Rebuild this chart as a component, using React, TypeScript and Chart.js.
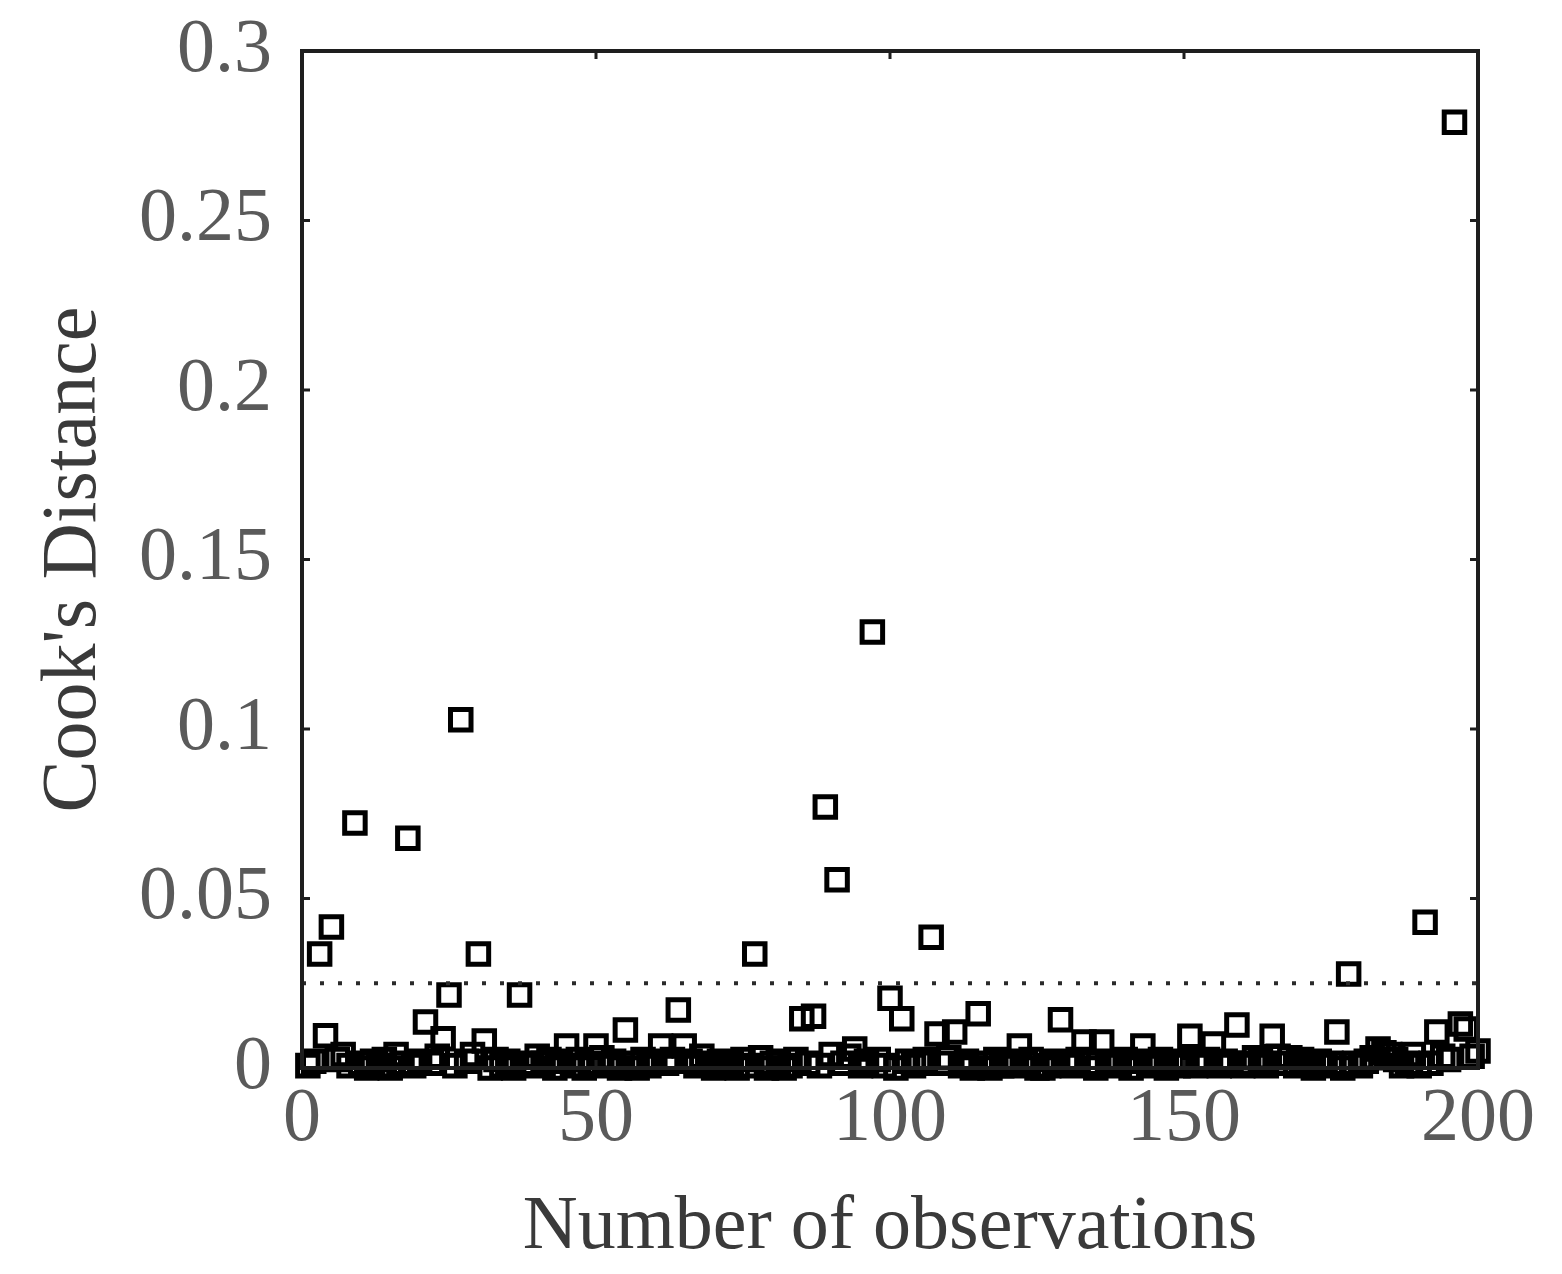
import React, { useEffect, useRef } from 'react';
import { Chart, registerables } from 'chart.js';

Chart.register(...registerables);

// Cook's distance per observation (obs 1..200)
const cooksDistance: number[] = [
  0.0007, 0.002, 0.0336, 0.0095, 0.0416, 0.0025, 0.004, 0.0007, 0.0723, 0.0014,
  0.0, 0.002, 0.0007, 0.0025, 0.0, 0.004, 0.0014, 0.0678, 0.0007, 0.002,
  0.0136, 0.0014, 0.0035, 0.0086, 0.0215, 0.0007, 0.1027, 0.002, 0.004, 0.0336,
  0.008, 0.0, 0.0025, 0.0007, 0.002, 0.0, 0.0215, 0.0014, 0.0007, 0.0035,
  0.0014, 0.0025, 0.0, 0.002, 0.0065, 0.0007, 0.0025, 0.0, 0.0014, 0.0065,
  0.003, 0.0007, 0.002, 0.0, 0.0112, 0.0014, 0.0, 0.0025, 0.0007, 0.002,
  0.0065, 0.0014, 0.0025, 0.0171, 0.0065, 0.002, 0.0007, 0.0035, 0.0014, 0.0,
  0.002, 0.0007, 0.0014, 0.0, 0.0025, 0.0007, 0.0336, 0.003, 0.0, 0.0014,
  0.002, 0.0, 0.0007, 0.0025, 0.0145, 0.0014, 0.0153, 0.0007, 0.077, 0.004,
  0.0555, 0.0014, 0.0035, 0.0056, 0.0007, 0.002, 0.1286, 0.0025, 0.0007, 0.0206,
  0.0, 0.0145, 0.002, 0.0007, 0.0014, 0.0025, 0.0386, 0.01, 0.0014, 0.003,
  0.0106, 0.0007, 0.002, 0.0, 0.016, 0.0014, 0.0, 0.0025, 0.0007, 0.002,
  0.0007, 0.0065, 0.0014, 0.0025, 0.0, 0.0, 0.0007, 0.002, 0.0142, 0.0014,
  0.0007, 0.0025, 0.0077, 0.0014, 0.0, 0.0077, 0.002, 0.0007, 0.0014, 0.0025,
  0.0, 0.002, 0.0065, 0.0014, 0.0007, 0.0025, 0.0, 0.0014, 0.0007, 0.002,
  0.0094, 0.0007, 0.0014, 0.0025, 0.0071, 0.0007, 0.002, 0.0014, 0.0127, 0.0007,
  0.0014, 0.003, 0.002, 0.0007, 0.0094, 0.0035, 0.0014, 0.003, 0.0007, 0.0025,
  0.0014, 0.0, 0.002, 0.0007, 0.0014, 0.0106, 0.0, 0.0277, 0.0014, 0.0007,
  0.002, 0.003, 0.0056, 0.0045, 0.004, 0.0025, 0.0007, 0.0014, 0.004, 0.0007,
  0.043, 0.0014, 0.0106, 0.0035, 0.0025, 0.279, 0.013, 0.0115, 0.0035, 0.005,
];

// dotted cut-off line
const threshold = 0.025;

const xTicks = [0, 50, 100, 150, 200];
const yTicks = [0, 0.05, 0.1, 0.15, 0.2, 0.25, 0.3];

const serif = '"Liberation Serif", "Times New Roman", serif';

// frame around the plot with small inward ticks on all four sides
const framePlugin = {
  id: 'frame',
  afterDraw(chart: any) {
    const { ctx, chartArea, scales } = chart;
    const { left, right, top, bottom } = chartArea;
    ctx.save();
    ctx.strokeStyle = '#1e1e1e';
    ctx.lineWidth = 4;
    ctx.strokeRect(left, top, right - left, bottom - top);
    ctx.lineWidth = 3;
    const len = 8;
    yTicks.forEach((v) => {
      const y = scales.y.getPixelForValue(v);
      ctx.beginPath();
      ctx.moveTo(left, y);
      ctx.lineTo(left + len, y);
      ctx.moveTo(right, y);
      ctx.lineTo(right - len, y);
      ctx.stroke();
    });
    xTicks.forEach((v) => {
      const x = scales.x.getPixelForValue(v);
      ctx.beginPath();
      ctx.moveTo(x, bottom);
      ctx.lineTo(x, bottom - len);
      ctx.moveTo(x, top);
      ctx.lineTo(x, top + len);
      ctx.stroke();
    });
    ctx.restore();
  },
};

const CooksChart: React.FC = () => {
  const canvasRef = useRef<HTMLCanvasElement>(null);

  useEffect(() => {
    if (!canvasRef.current) return;

    const points = cooksDistance.map((d, i) => ({ x: i + 1, y: d }));

    const config: any = {
      type: 'scatter',
      data: {
        datasets: [
          {
            type: 'line',
            label: 'threshold',
            data: [
              { x: xTicks[0], y: threshold },
              { x: xTicks[xTicks.length - 1], y: threshold },
            ],
            borderColor: '#2a2a2a',
            borderWidth: 4,
            borderDash: [4, 14],
            borderCapStyle: 'butt',
            pointRadius: 0,
            fill: false,
          },
          {
            label: "Cook's Distance",
            data: points,
            pointStyle: 'rect',
            pointRadius: 14.5,
            pointBorderWidth: 5,
            borderColor: '#000',
            backgroundColor: 'rgba(0,0,0,0)',
            clip: false,
          },
        ],
      },
      options: {
        animation: false,
        responsive: true,
        maintainAspectRatio: false,
        layout: { padding: { top: 43, right: 76, left: 0, bottom: 0 } },
        plugins: {
          legend: { display: false },
          tooltip: { enabled: false },
        },
        scales: {
          x: {
            type: 'linear',
            min: 0,
            max: 200,
            afterFit: (scale: any) => {
              scale.height = 198;
              scale.paddingLeft = 0;
              scale.paddingRight = 0;
            },
            afterBuildTicks: (scale: any) => { scale.ticks = xTicks.map((v) => ({ value: v })); },
            grid: { display: false, drawTicks: false },
            border: { display: false },
            ticks: {
              padding: 6,
              color: '#5a5a5a',
              font: { family: serif, size: 76 },
            },
            title: {
              display: true,
              text: 'Number of observations',
              color: '#3a3a3a',
              font: { family: serif, size: 76, lineHeight: 1 },
              padding: { top: 0, bottom: 0 },
            },
          },
          y: {
            type: 'linear',
            min: 0,
            max: 0.3,
            afterFit: (scale: any) => {
              scale.width = 294;
              scale.paddingTop = 0;
              scale.paddingBottom = 0;
            },
            afterBuildTicks: (scale: any) => { scale.ticks = yTicks.map((v) => ({ value: v })); },
            grid: { display: false, drawTicks: false },
            border: { display: false },
            ticks: {
              padding: 30,
              color: '#5a5a5a',
              font: { family: serif, size: 76 },
              callback: (v: any) => String(Number(Number(v).toFixed(2))),
            },
            title: {
              display: true,
              text: "Cook's Distance",
              color: '#3a3a3a',
              font: { family: serif, size: 78, lineHeight: 1 },
              padding: { top: 28, bottom: 0 },
            },
          },
        },
      },
      plugins: [framePlugin],
    };

    const chart = new Chart(canvasRef.current, config);
    return () => {
      chart.destroy();
    };
  }, []);

  return <canvas ref={canvasRef}></canvas>;
};

export default function App() {
  return (
    <div style={{ width: 1546, height: 1258, position: 'relative', background: '#fff' }}>
      <CooksChart />
    </div>
  );
}
